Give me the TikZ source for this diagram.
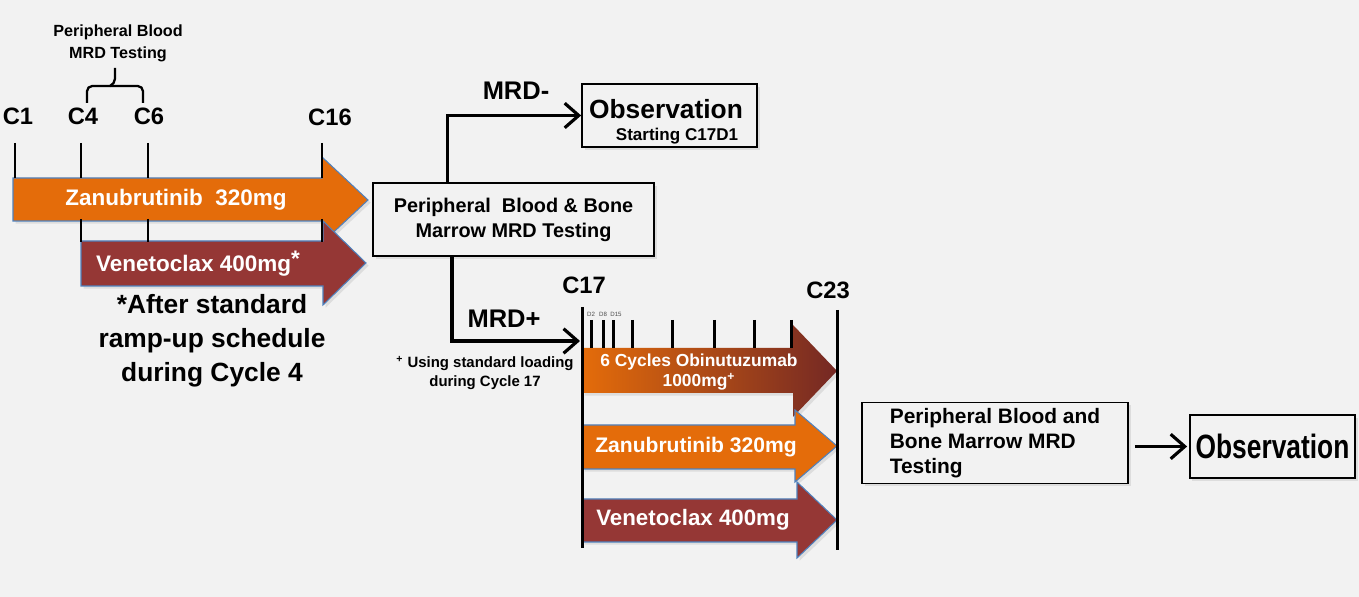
\documentclass[tikz,border=0pt]{standalone}
\usepackage{fontspec}
\setmainfont{Liberation Sans}
\usepackage{tikz}
\usetikzlibrary{arrows.meta}
\usetikzlibrary{shadows}
\definecolor{zanuorange}{HTML}{E46C0A}
\definecolor{venered}{HTML}{953735}
\definecolor{obindark}{HTML}{742824}
\definecolor{edgeblue}{HTML}{4F81BD}
\definecolor{bggray}{HTML}{F2F2F2}
\newcommand{\fsz}[2]{\fontsize{#1}{#2}\selectfont}

\begin{document}
\begin{tikzpicture}[x=0.02cm, y=-0.02cm,
    dshadow/.style={drop shadow={opacity=0.18, shadow xshift=1.5pt, shadow yshift=-1.5pt}},
    cycline/.style={line width=1.7pt},
    cyclbl/.style={font=\bfseries\fsz{13.5}{16}},
    drug/.style={draw=edgeblue, line width=0.6pt, dshadow},
    drugtxt/.style={text=white, font=\bfseries\fsz{12.8}{15}},
    testbox/.style={draw, line width=1pt, fill=bggray, dshadow},
    flow/.style={line width=1.8pt, -{Straight Barb[length=8pt, width=14pt]}},
    bigtxt/.style={font=\bfseries\fsz{14.5}{17}},
  ]
  \fill[bggray] (0,0) rectangle (1359,597);
  \useasboundingbox (0,0) rectangle (1359,597);

  \node[font=\bfseries\fsz{9.2}{12.5}, align=center] (pbtest) at (118,43) {Peripheral Blood\\MRD Testing};
  \draw[line width=1.3pt, rounded corners=3pt] (87,103) -- (87,86) -- (143,86) -- (143,103);
  \draw[line width=1.3pt, rounded corners=3pt] (110,86) -- (115,84) -- (115,68);

  \node[cyclbl] (c1) at (18,116) {C1};
  \node[cyclbl] (c4) at (83,116) {C4};
  \node[cyclbl] (c6) at (149,116) {C6};
  \node[cyclbl] (c16) at (330,117) {C16};

  \filldraw[drug, fill=zanuorange] (13,178) -- (322,178) -- (322,157) -- (368,200)
    -- (322,243) -- (322,221) -- (13,221) -- cycle;
  \filldraw[drug, fill=venered] (81,241) -- (323,241) -- (323,221) -- (366,263)
    -- (323,305) -- (323,286) -- (81,286) -- cycle;
  \foreach \x in {15,81,148,322}
    \draw[cycline] (\x,143) -- (\x,178);
  \foreach \x in {81,148,322}
    \draw[cycline] (\x,219) -- (\x,242);
  \node[drugtxt] (zanulbl) at (176,200) {Zanubrutinib~~320mg};
  \node[drugtxt] (venelbl) at (198,264) {Venetoclax 400mg\raisebox{3pt}{*}};
  \node[font=\bfseries\fsz{15}{19.3}, align=center] (rampnote) at (212,341) {*After standard\\ramp-up schedule\\during Cycle 4};

  \node[testbox, minimum width=5.62cm, minimum height=1.46cm, align=center,
    font=\bfseries\fsz{11.3}{14.2}] (bmtest) at (513.5,219.5) {Peripheral\ \ Blood \& Bone\\Marrow MRD Testing};

  \node[testbox, minimum width=3.5cm, minimum height=1.26cm] (obsneg) at (669.5,115.5) {};
  \node[font=\bfseries\fsz{15}{18}] (obsnegtxt) at (666,109) {Observation};
  \node[font=\bfseries\fsz{9.7}{12}] (obsnegstart) at (677,136) {Starting C17D1};
  \draw[flow] ([xshift=-1.32cm]bmtest.north) |- (obsneg.west);
  \node[bigtxt] (mrdneg) at (516,91) {MRD-};

  \coordinate (c17in) at (580,341);
  \draw[flow] ([xshift=-1.23cm]bmtest.south) |- (c17in);
  \node[bigtxt] (mrdpos) at (504,319) {MRD+};
  \node[font=\bfseries\fsz{8.5}{10.4}, align=center] (loadnote) at (485,373) {\textsuperscript{+} Using standard loading\\during Cycle 17};

  \shade[left color=zanuorange, right color=obindark, dshadow] (582,348) -- (793,348) -- (793,325)
    -- (837,371) -- (793,417) -- (793,393) -- (582,393) -- cycle;
  \filldraw[drug, fill=zanuorange] (582,425) -- (795,425) -- (795,410) -- (837,446)
    -- (795,482) -- (795,469) -- (582,469) -- cycle;
  \filldraw[drug, fill=venered] (582,499) -- (797,499) -- (797,482) -- (837,520)
    -- (797,558) -- (797,542) -- (582,542) -- cycle;
  \node[drugtxt, font=\bfseries\fsz{9.9}{11.7}, align=center] (obinlbl) at (699,372) {6 Cycles Obinutuzumab\\1000mg\textsuperscript{+}};
  \node[drugtxt, font=\bfseries\fsz{12}{15}] (zanulbl2) at (696,447) {Zanubrutinib 320mg};
  \node[drugtxt, font=\bfseries\fsz{12.7}{15}] (venelbl2) at (693,520) {Venetoclax 400mg};

  \draw[cycline] (582,307) -- (582,548);
  \draw[cycline] (837,310) -- (837,550);
  \foreach \x in {591,603,613,632,672,714,754,791}
    \draw[cycline] (\x,320) -- (\x,348);
  \node[cyclbl] (c17) at (584,285) {C17};
  \node[cyclbl] (c23) at (828,290) {C23};
  \node[font=\fsz{3.5}{4}, text=black!70, inner sep=0pt] (d2) at (591,314) {D2};
  \node[font=\fsz{3.5}{4}, text=black!70, inner sep=0pt] (d8) at (603,314) {D8};
  \node[font=\fsz{3.5}{4}, text=black!70, inner sep=0pt] (d15) at (616,314) {D15};

  \node[testbox, minimum width=5.32cm, minimum height=1.56cm, align=left,
    font=\bfseries\fsz{11.9}{14.2}] (bmtest2) at (995,443) {Peripheral Blood and\\Bone Marrow MRD\\Testing};
  \node[testbox, minimum width=3.3cm, minimum height=1.26cm,
    font=\bfseries\fsz{15}{18}] (obsfinal) at (1272.5,446.5) {\scalebox{1}[1.28]{Observation}};
  \draw[flow, shorten <=3.4pt, shorten >=1pt] (bmtest2.east |- obsfinal.west) -- (obsfinal.west);
\end{tikzpicture}
\end{document}
